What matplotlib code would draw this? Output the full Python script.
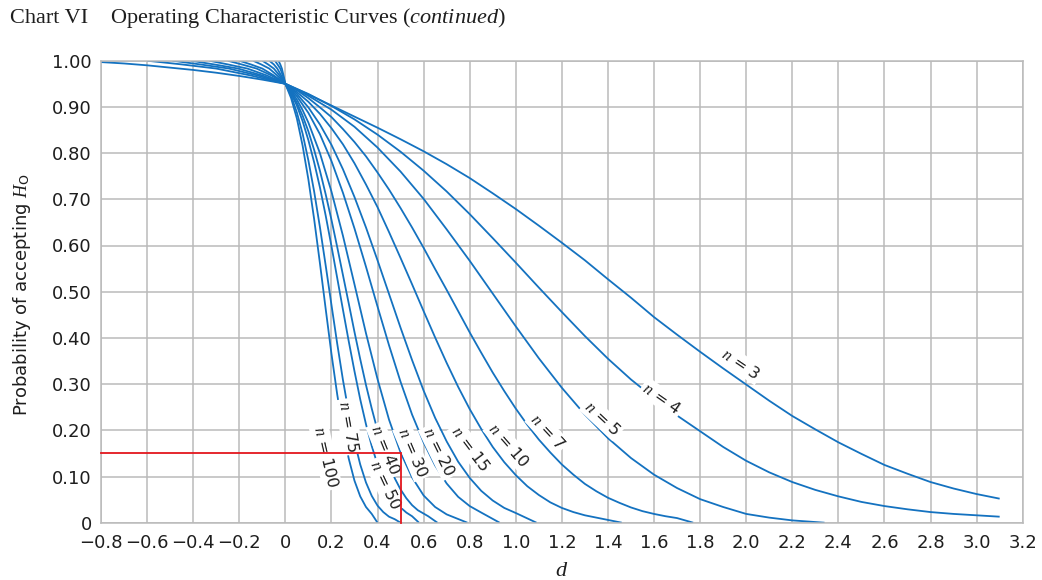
import matplotlib
matplotlib.use("Agg")
import matplotlib.pyplot as plt

plt.rcParams['font.family'] = ['DejaVu Sans']
plt.rcParams['mathtext.fontset'] = 'custom'
plt.rcParams['mathtext.rm'] = 'DejaVu Sans'
plt.rcParams['mathtext.it'] = 'Liberation Serif:italic'
plt.rcParams['mathtext.bf'] = 'DejaVu Sans:bold'

# ---------------- data ----------------
x_ticks = [-0.8, -0.6, -0.4, -0.2, 0, 0.2, 0.4, 0.6, 0.8, 1.0, 1.2, 1.4, 1.6,
           1.8, 2.0, 2.2, 2.4, 2.6, 2.8, 3.0, 3.2]
x_labels = ['\u22120.8', '\u22120.6', '\u22120.4', '\u22120.2', '0', '0.2', '0.4',
            '0.6', '0.8', '1.0', '1.2', '1.4', '1.6', '1.8', '2.0', '2.2', '2.4',
            '2.6', '2.8', '3.0', '3.2']
y_ticks = [0, 0.1, 0.2, 0.3, 0.4, 0.5, 0.6, 0.7, 0.8, 0.9, 1.0]
y_labels = ['0', '0.10', '0.20', '0.30', '0.40', '0.50', '0.60', '0.70', '0.80',
            '0.90', '1.00']

d_n3 = [-0.8, -0.7, -0.6, -0.5, -0.4, -0.3, -0.2, -0.1, 0, 0.1, 0.2, 0.3, 0.4, 0.5,
        0.6, 0.7, 0.8, 0.9, 1.0, 1.1, 1.2, 1.3, 1.4, 1.5, 1.6, 1.7, 1.8, 1.9, 2.0,
        2.1, 2.2, 2.3, 2.4, 2.5, 2.6, 2.7, 2.8, 2.9, 3.0, 3.1]
p_n3 = [0.997, 0.994, 0.990, 0.985, 0.980, 0.974, 0.967, 0.959, 0.95, 0.927, 0.903,
        0.879, 0.855, 0.830, 0.804, 0.776, 0.746, 0.713, 0.679, 0.643, 0.606, 0.568,
        0.527, 0.487, 0.445, 0.407, 0.370, 0.334, 0.299, 0.264, 0.231, 0.202, 0.174,
        0.149, 0.125, 0.106, 0.088, 0.074, 0.062, 0.052]

d_n4 = [-0.6, -0.45, -0.3, -0.15, 0, 0.1, 0.2, 0.3, 0.4, 0.5, 0.6, 0.7, 0.8, 0.9,
        1.0, 1.1, 1.2, 1.3, 1.4, 1.5, 1.6, 1.7, 1.8, 1.9, 2.0, 2.1, 2.2, 2.3, 2.4,
        2.5, 2.6, 2.7, 2.8, 2.9, 3.0, 3.1]
p_n4 = [1.0, 0.992, 0.983, 0.968, 0.95, 0.928, 0.902, 0.873, 0.840, 0.803, 0.762,
        0.717, 0.668, 0.616, 0.563, 0.509, 0.456, 0.404, 0.355, 0.310, 0.270, 0.232,
        0.198, 0.164, 0.134, 0.109, 0.088, 0.071, 0.057, 0.045, 0.036, 0.029, 0.023,
        0.019, 0.016, 0.013]

d_n5 = [-0.49, -0.37, -0.245, -0.12, 0, 0.1, 0.2, 0.3, 0.4, 0.5, 0.6, 0.7, 0.8,
        0.9, 1.0, 1.1, 1.2, 1.3, 1.4, 1.5, 1.6, 1.7, 1.8, 1.9, 2.0, 2.1, 2.2, 2.34]
p_n5 = [1.0, 0.992, 0.983, 0.968, 0.95, 0.924, 0.894, 0.857, 0.812, 0.760, 0.701,
        0.635, 0.567, 0.496, 0.425, 0.356, 0.292, 0.234, 0.183, 0.140, 0.104, 0.075,
        0.051, 0.034, 0.019, 0.011, 0.005, 0.0]

d_n7 = [-0.41, -0.31, -0.205, -0.10, 0, 0.05, 0.1, 0.15, 0.2, 0.25, 0.3, 0.35, 0.4,
        0.45, 0.5, 0.55, 0.6, 0.65, 0.7, 0.75, 0.8, 0.85, 0.9, 0.95, 1.0, 1.05, 1.1,
        1.15, 1.2, 1.25, 1.3, 1.35, 1.4, 1.45, 1.5, 1.55, 1.6, 1.65, 1.7, 1.77]
p_n7 = [1.0, 0.992, 0.983, 0.968, 0.95, 0.936, 0.919, 0.899, 0.878, 0.852, 0.824,
        0.793, 0.758, 0.721, 0.681, 0.639, 0.595, 0.549, 0.504, 0.458, 0.412, 0.368,
        0.325, 0.285, 0.247, 0.212, 0.180, 0.152, 0.126, 0.104, 0.084, 0.068, 0.054,
        0.043, 0.033, 0.025, 0.019, 0.014, 0.010, 0.0]

d_n10 = [-0.33, -0.25, -0.165, -0.08, 0, 0.05, 0.1, 0.15, 0.2, 0.25, 0.3, 0.35, 0.4,
         0.45, 0.5, 0.55, 0.6, 0.65, 0.7, 0.75, 0.8, 0.85, 0.9, 0.95, 1.0, 1.05, 1.1,
         1.15, 1.2, 1.25, 1.3, 1.35, 1.46]
p_n10 = [1.0, 0.992, 0.983, 0.968, 0.95, 0.932, 0.911, 0.885, 0.854, 0.819, 0.778,
         0.732, 0.683, 0.629, 0.573, 0.516, 0.458, 0.401, 0.346, 0.294, 0.246, 0.203,
         0.164, 0.131, 0.103, 0.079, 0.060, 0.044, 0.032, 0.023, 0.016, 0.011, 0.0]

d_n15 = [-0.25, -0.19, -0.125, -0.06, 0, 0.05, 0.1, 0.15, 0.2, 0.25, 0.3, 0.35, 0.4,
         0.45, 0.5, 0.55, 0.6, 0.65, 0.7, 0.75, 0.8, 0.85, 0.9, 0.95, 1.0, 1.09]
p_n15 = [1.0, 0.992, 0.983, 0.968, 0.95, 0.928, 0.899, 0.862, 0.818, 0.765, 0.705,
         0.639, 0.568, 0.495, 0.422, 0.352, 0.286, 0.227, 0.176, 0.132, 0.097, 0.069,
         0.048, 0.032, 0.021, 0.0]

d_n20 = [-0.20, -0.15, -0.10, -0.05, 0, 0.05, 0.1, 0.15, 0.2, 0.25, 0.3, 0.35, 0.4,
         0.45, 0.5, 0.55, 0.6, 0.65, 0.7, 0.75, 0.8, 0.85, 0.93]
p_n20 = [1.0, 0.992, 0.983, 0.968, 0.95, 0.923, 0.887, 0.841, 0.783, 0.714, 0.637,
         0.554, 0.468, 0.384, 0.305, 0.234, 0.174, 0.124, 0.085, 0.056, 0.036, 0.022,
         0.0]

d_n30 = [-0.14, -0.105, -0.07, -0.035, 0, 0.025, 0.05, 0.075, 0.1, 0.15, 0.2, 0.25,
         0.3, 0.35, 0.4, 0.45, 0.5, 0.55, 0.6, 0.65, 0.7, 0.79]
p_n30 = [1.0, 0.992, 0.983, 0.968, 0.95, 0.935, 0.916, 0.893, 0.866, 0.800, 0.717,
         0.621, 0.516, 0.410, 0.311, 0.223, 0.152, 0.098, 0.059, 0.034, 0.018, 0.0]

d_n40 = [-0.10, -0.075, -0.05, -0.025, 0, 0.025, 0.05, 0.075, 0.1, 0.125, 0.15,
         0.175, 0.2, 0.225, 0.25, 0.275, 0.3, 0.325, 0.35, 0.375, 0.4, 0.425, 0.45,
         0.475, 0.5, 0.525, 0.55, 0.575, 0.62, 0.66]
p_n40 = [1.0, 0.992, 0.983, 0.968, 0.95, 0.932, 0.909, 0.881, 0.847, 0.807, 0.762,
         0.711, 0.656, 0.597, 0.536, 0.475, 0.413, 0.354, 0.298, 0.247, 0.200, 0.160,
         0.125, 0.096, 0.072, 0.053, 0.038, 0.027, 0.014, 0.0]

d_n50 = [-0.07, -0.05, -0.035, -0.018, 0, 0.025, 0.05, 0.075, 0.1, 0.125, 0.15,
         0.175, 0.2, 0.225, 0.25, 0.275, 0.3, 0.325, 0.35, 0.375, 0.4, 0.425, 0.45,
         0.475, 0.5, 0.525, 0.55, 0.58]
p_n50 = [1.0, 0.992, 0.983, 0.968, 0.95, 0.929, 0.903, 0.869, 0.828, 0.780, 0.726,
         0.665, 0.599, 0.530, 0.461, 0.393, 0.328, 0.267, 0.213, 0.166, 0.126, 0.094,
         0.068, 0.048, 0.033, 0.022, 0.014, 0.0]

d_n75 = [-0.045, -0.034, -0.022, -0.011, 0, 0.025, 0.05, 0.075, 0.1, 0.125, 0.15,
         0.175, 0.2, 0.225, 0.25, 0.275, 0.3, 0.325, 0.35, 0.375, 0.4, 0.425, 0.45,
         0.475, 0.5]
p_n75 = [1.0, 0.992, 0.983, 0.968, 0.95, 0.924, 0.888, 0.842, 0.784, 0.717, 0.640,
         0.557, 0.472, 0.388, 0.309, 0.238, 0.176, 0.126, 0.087, 0.058, 0.037, 0.023,
         0.013, 0.0075, 0.0]

d_n100 = [-0.03, -0.022, -0.015, -0.008, 0, 0.025, 0.05, 0.075, 0.1, 0.125, 0.15,
          0.175, 0.2, 0.225, 0.25, 0.275, 0.3, 0.325, 0.35, 0.375, 0.4]
p_n100 = [1.0, 0.992, 0.983, 0.968, 0.95, 0.919, 0.875, 0.816, 0.743, 0.657, 0.562,
          0.463, 0.366, 0.278, 0.201, 0.139, 0.091, 0.057, 0.034, 0.019, 0.0]

curve_labels = ['3', '4', '5', '7', '10', '15', '20', '30', '40', '50', '75', '100']
curves = [(d_n3, p_n3), (d_n4, p_n4), (d_n5, p_n5), (d_n7, p_n7), (d_n10, p_n10),
          (d_n15, p_n15), (d_n20, p_n20), (d_n30, p_n30), (d_n40, p_n40),
          (d_n50, p_n50), (d_n75, p_n75), (d_n100, p_n100)]

# label anchor (d, p) and rotation, same order as curve_labels
label_d = [1.977, 1.634, 1.376, 1.137, 0.968, 0.802, 0.667, 0.551, 0.433, 0.433, 0.276, 0.175]
label_p = [0.343, 0.269, 0.226, 0.197, 0.167, 0.161, 0.154, 0.152, 0.157, 0.082, 0.208, 0.142]
label_rot = [-34, -35, -43, -47, -49, -53, -64, -67, -68, -65, -80, -77]

# example (red) lines
red_d = [-0.8, 0.5, 0.5]
red_p = [0.15, 0.15, 0.0]

# ---------------- figure ----------------
W, H = 1042, 580
fig = plt.figure(figsize=(W / 100, H / 100), dpi=100)
left, right, top, bottom = 101, 1022.7, 60.7, 522.7
ax = fig.add_axes([left / W, 1 - bottom / H, (right - left) / W, (bottom - top) / H])
ax.set_xlim(-0.8, 3.2)
ax.set_ylim(0, 1.0)

grid_col = '#bababa'
txt_col = '#1e1e1e'
ax.set_xticks(x_ticks)
ax.set_xticklabels(x_labels)
ax.set_yticks(y_ticks)
ax.set_yticklabels(y_labels)
ax.tick_params(length=0, labelsize=13, colors=txt_col)
ax.tick_params(axis='x', pad=8)
ax.tick_params(axis='y', pad=6.5)
ax.grid(True, color=grid_col, lw=1.1)
ax.set_axisbelow(True)
for s in ax.spines.values():
    s.set_color(grid_col)
    s.set_linewidth(1.1)

blue = '#1472c0'
for d, p in curves:
    ax.plot(d, p, color=blue, lw=1.3, zorder=2, solid_capstyle='butt',
            solid_joinstyle='round')

for lab, x, y, r in zip(curve_labels, label_d, label_p, label_rot):
    ax.text(x, y, r'$n$ = ' + lab, rotation=r, rotation_mode='anchor',
            ha='center', va='center', fontsize=11.5, color=txt_col, zorder=3,
            bbox=dict(boxstyle='square,pad=0.12', fc='white', ec='none'))

ax.plot(red_d, red_p, color='#e3161d', lw=1.3, zorder=4, clip_on=False,
        solid_joinstyle='miter')

ax.set_xlabel(r'$d$', fontsize=16, labelpad=6, color=txt_col)

fig.text(22 / W, 1 - 295 / H, r'Probability of accepting $H_{\rm O}$', rotation=90,
         ha='center', va='center', fontsize=13, color=txt_col)

fig.text(10 / W, 1 - 23 / H, 'Chart VI', ha='left', va='baseline',
         fontsize=16, family='Liberation Serif', color=txt_col)
fig.text(110 / W, 1 - 23 / H, r'Operating Characteristic Curves ($\mathit{continued}$)',
         ha='left', va='baseline', fontsize=16, family='Liberation Serif',
         color=txt_col)

fig.savefig('out.png', dpi=100)
